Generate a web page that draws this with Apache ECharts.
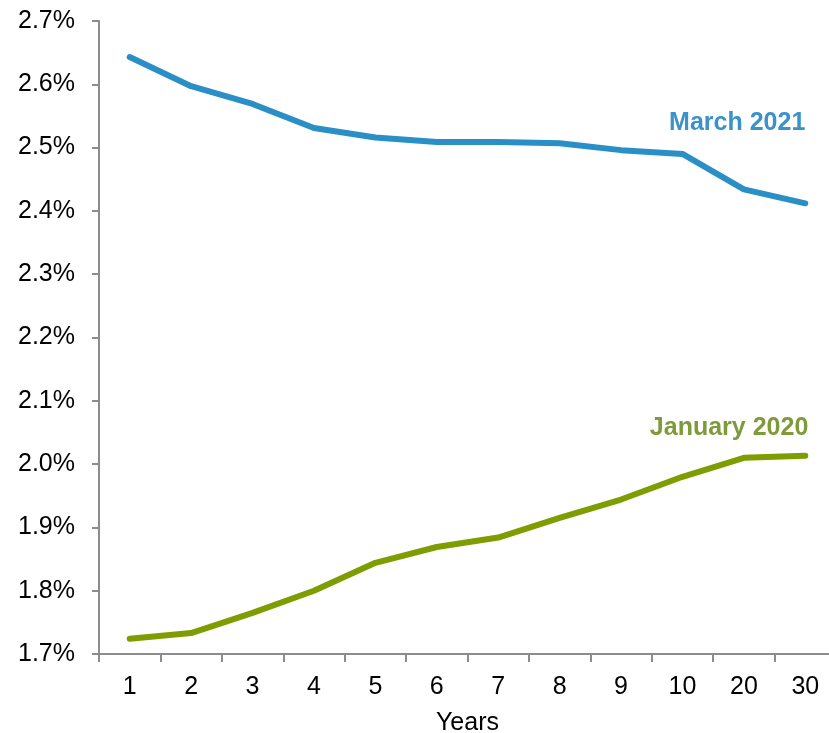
<!DOCTYPE html>
<html>
<head>
<meta charset="utf-8">
<script src="https://cdn.jsdelivr.net/npm/echarts@6/dist/echarts.min.js"></script>
<style>
  html, body { margin: 0; padding: 0; background: #fff; }
  #chart { width: 829px; height: 733px; }
</style>
</head>
<body>
<div id="chart"></div>
<script>
// Maturities (years) along the curve
const maturities = ['1', '2', '3', '4', '5', '6', '7', '8', '9', '10', '20', '30'];
// Yields in percent
const march2021 = [2.643, 2.597, 2.569, 2.531, 2.516, 2.509, 2.509, 2.507, 2.496, 2.490, 2.434, 2.412];
const january2020 = [1.724, 1.733, 1.765, 1.800, 1.844, 1.869, 1.884, 1.915, 1.944, 1.980, 2.010, 2.013];
const seriesNames = ['March 2021', 'January 2020'];
const yTicks = { min: 1.7, max: 2.7, step: 0.1 };

const FONT = 'Liberation Sans, Arial, sans-serif';
const BLUE = '#2a8fc6';
const GREEN = '#7e9d00';
const axisGray = '#8c8c8c';

function endLabel(seriesData, text, color, offset) {
  const last = seriesData.length - 1;
  return {
    symbol: 'circle',
    symbolSize: 0,
    silent: true,
    data: [{
      coord: [maturities[last], seriesData[last]],
      label: {
        show: true,
        formatter: text,
        position: 'top',
        align: 'right',
        offset: offset,
        color: color,
        fontFamily: FONT,
        fontWeight: 'bold',
        fontSize: 25
      }
    }]
  };
}

const chart = echarts.init(document.getElementById('chart'), null, { renderer: 'canvas' });
chart.setOption({
  animation: false,
  backgroundColor: '#fff',
  grid: { left: 99, right: -7, top: 21, bottom: 79, containLabel: false, outerBoundsMode: 'none' },
  xAxis: {
    type: 'category',
    data: maturities,
    boundaryGap: true,
    name: 'Years',
    nameLocation: 'middle',
    nameGap: 57,
    nameTextStyle: { color: '#000', fontFamily: FONT, fontSize: 25 },
    axisLine: { lineStyle: { color: axisGray, width: 2 } },
    axisTick: { show: true, length: 8, lineStyle: { color: axisGray, width: 2 } },
    axisLabel: { color: '#000', fontFamily: FONT, fontSize: 25, margin: 21 },
    splitLine: { show: false }
  },
  yAxis: {
    type: 'value',
    min: yTicks.min,
    max: yTicks.max,
    interval: yTicks.step,
    axisLine: { show: true, lineStyle: { color: axisGray, width: 2 } },
    axisTick: { show: true, length: 7, lineStyle: { color: axisGray, width: 2 } },
    axisLabel: {
      color: '#000', fontFamily: FONT, fontSize: 25, margin: 24,
      formatter: v => v.toFixed(1) + '%'
    },
    splitLine: { show: false }
  },
  series: [
    {
      name: seriesNames[0],
      type: 'line',
      data: march2021,
      showSymbol: false,
      lineStyle: { color: BLUE, width: 6, cap: 'round', join: 'round' },
      itemStyle: { color: BLUE },
      markPoint: endLabel(march2021, seriesNames[0], '#3a92c8', [0, -63])
    },
    {
      name: seriesNames[1],
      type: 'line',
      data: january2020,
      showSymbol: false,
      lineStyle: { color: GREEN, width: 6, cap: 'round', join: 'round' },
      itemStyle: { color: GREEN },
      markPoint: endLabel(january2020, seriesNames[1], '#7f9a3a', [3, -10])
    }
  ]
});
</script>
</body>
</html>
